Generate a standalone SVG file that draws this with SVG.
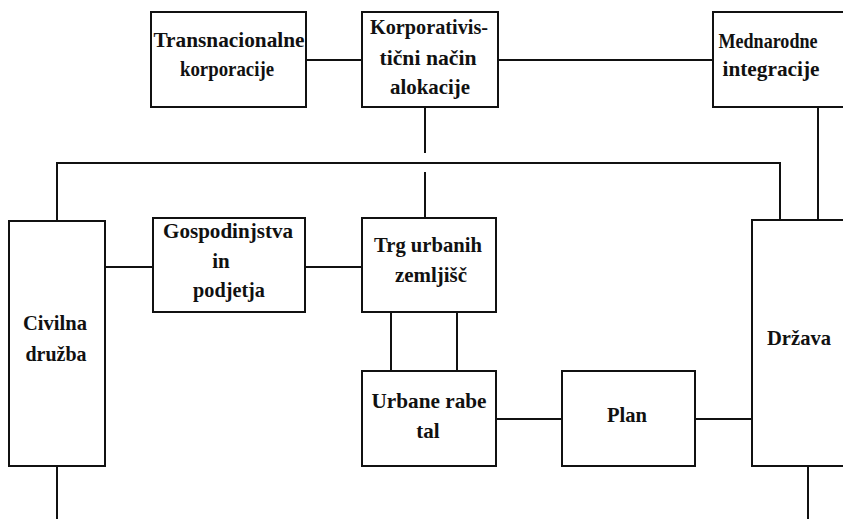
<svg xmlns="http://www.w3.org/2000/svg" width="843" height="519" viewBox="0 0 843 519">
<style>
.box{fill:#fff;stroke:#111;stroke-width:2}
.ln{fill:none;stroke:#111;stroke-width:2}
text{font-family:"Liberation Serif","Times New Roman",serif;font-weight:bold;font-size:21px;fill:#111;text-anchor:middle}
</style>
<rect width="843" height="519" fill="#fff"/>
<g id="connectors" class="ln">
<path d="M306 60H362"/>
<path d="M498 60H713"/>
<path d="M425 107V153M425 172V218"/>
<path d="M57 221V163H780V220"/>
<path d="M818 107V220"/>
<path d="M105 267H153"/>
<path d="M305 267H362"/>
<path d="M391 312V371M457 312V371"/>
<path d="M496 419H562"/>
<path d="M695 419H752"/>
<path d="M57 466V519"/>
<path d="M808 466V519"/>
</g>
<g id="transnacionalne">
<rect class="box" x="151" y="12" width="155" height="95"/>
<text x="229" y="47" textLength="151" lengthAdjust="spacingAndGlyphs">Transnacionalne</text>
<text x="227" y="76" textLength="94" lengthAdjust="spacingAndGlyphs">korporacije</text>
</g>
<g id="korporativisticni">
<rect class="box" x="362" y="12" width="136" height="95"/>
<text x="429" y="34" textLength="118" lengthAdjust="spacingAndGlyphs">Korporativis-</text>
<text x="428" y="65" textLength="97" lengthAdjust="spacingAndGlyphs">tični način</text>
<text x="430" y="94" textLength="80" lengthAdjust="spacingAndGlyphs">alokacije</text>
</g>
<g id="mednarodne">
<rect class="box" x="713" y="12" width="140" height="95"/>
<text x="768" y="48" textLength="99" lengthAdjust="spacingAndGlyphs">Mednarodne</text>
<text x="771" y="76" textLength="97" lengthAdjust="spacingAndGlyphs">integracije</text>
</g>
<g id="civilna">
<rect class="box" x="9" y="221" width="96" height="245"/>
<text x="55" y="330" textLength="64" lengthAdjust="spacingAndGlyphs">Civilna</text>
<text x="56" y="361" textLength="61" lengthAdjust="spacingAndGlyphs">družba</text>
</g>
<g id="gospodinjstva">
<rect class="box" x="153" y="218" width="152" height="94"/>
<text x="228" y="238" textLength="130" lengthAdjust="spacingAndGlyphs">Gospodinjstva</text>
<text x="221" y="268">in</text>
<text x="229" y="297" textLength="72" lengthAdjust="spacingAndGlyphs">podjetja</text>
</g>
<g id="trg">
<rect class="box" x="362" y="218" width="134" height="94"/>
<text x="428" y="252" textLength="108" lengthAdjust="spacingAndGlyphs">Trg urbanih</text>
<text x="431" y="282" textLength="72" lengthAdjust="spacingAndGlyphs">zemljišč</text>
</g>
<g id="urbane">
<rect class="box" x="362" y="371" width="134" height="95"/>
<text x="429" y="408" textLength="115" lengthAdjust="spacingAndGlyphs">Urbane rabe</text>
<text x="428" y="438">tal</text>
</g>
<g id="plan">
<rect class="box" x="562" y="371" width="133" height="95"/>
<text x="627" y="422" textLength="40" lengthAdjust="spacingAndGlyphs">Plan</text>
</g>
<g id="drzava">
<rect class="box" x="752" y="220" width="100" height="246"/>
<text x="799" y="345" textLength="64" lengthAdjust="spacingAndGlyphs">Država</text>
</g>
</svg>
